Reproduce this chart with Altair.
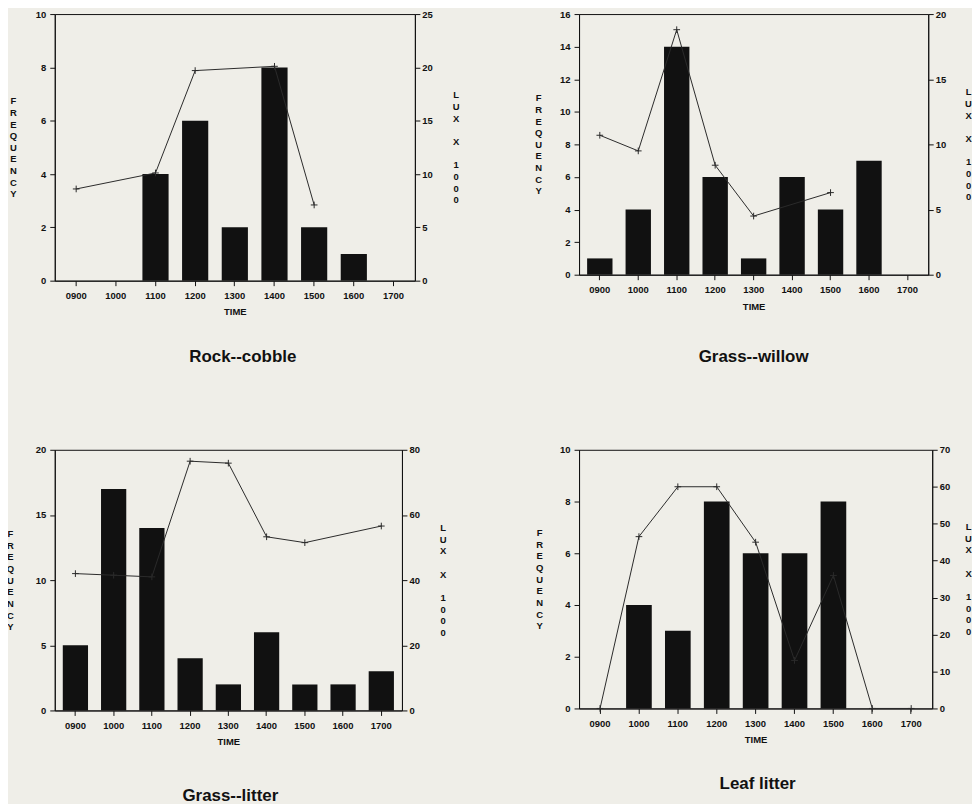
import altair as alt
import pandas as pd

times = ["0900", "1000", "1100", "1200", "1300", "1400", "1500", "1600", "1700"]

rock_freq = [0, 0, 4, 6, 2, 8, 2, 1, 0]
rock_lux = [8.6, None, 10.1, 19.7, None, 20.1, 7.1, None, None]

willow_freq = [1, 4, 14, 6, 1, 6, 4, 7, 0]
willow_lux = [10.7, 9.5, 18.8, 8.4, 4.5, None, 6.3, None, None]

litter_freq = [5, 17, 14, 4, 2, 6, 2, 2, 3]
litter_lux = [42.0, 41.5, 41.0, 76.5, 75.9, 53.3, 51.5, None, 56.6]

leaf_freq = [0, 4, 3, 8, 6, 6, 8, 0, 0]
leaf_lux = [0.0, 46.5, 60.0, 60.0, 45.0, 13.0, 36.0, 0.0, 0.0]

FONT = "Liberation Sans"
INK = "#111111"
BG = "#efeee8"
PLUS = "M-1,0L1,0M0,-1L0,1"
GAP = "\u2800"
LH = 11.7

left_title = list("FREQUENCY")
right_title = ["L", "U", "X", GAP, "X", GAP, "1", "0", "0", "0"]


def panel(freq, lux, fmax, fstep, lmax, lstep, w, h, title, tdx, toff,
          ltx, rtx):
    df = pd.DataFrame({"time": times, "freq": freq, "lux": lux})
    x = alt.X(
        "time:O", sort=times,
        scale=alt.Scale(domain=times, paddingInner=0.34, paddingOuter=0.21),
        axis=alt.Axis(title="TIME", labelAngle=0, labelPadding=5,
                      titlePadding=7, tickSize=5),
    )
    bars = alt.Chart(df).transform_filter("datum.freq > 0").mark_bar(
        color=INK
    ).encode(
        x=x,
        y=alt.Y(
            "freq:Q",
            scale=alt.Scale(domain=[0, fmax], nice=False),
            axis=alt.Axis(
                orient="left",
                values=list(range(0, fmax + 1, fstep)),
                title=left_title, titleAngle=0, titleLineHeight=LH,
                titleAlign="center", titleBaseline="middle",
                titleX=ltx, titleY=h / 2 - (len(left_title) - 1) * LH / 2,
                labelPadding=4, tickSize=5,
            ),
        ),
    )
    line = alt.Chart(df).transform_filter("isValid(datum.lux)").mark_line(
        color="#2a2a2a", strokeWidth=1,
        point=alt.OverlayMarkDef(shape=PLUS, filled=False, size=45,
                                 strokeWidth=1, color="#2a2a2a"),
    ).encode(
        x=x,
        y=alt.Y(
            "lux:Q",
            scale=alt.Scale(domain=[0, lmax], nice=False),
            axis=alt.Axis(
                orient="right",
                values=list(range(0, lmax + 1, lstep)),
                title=right_title, titleAngle=0, titleLineHeight=LH,
                titleAlign="center", titleBaseline="middle",
                titleX=rtx, titleY=h / 2 - (len(right_title) - 1) * LH / 2,
                labelPadding=2, tickSize=5,
            ),
        ),
    )
    return alt.layer(bars, line).resolve_scale(y="independent").properties(
        width=w, height=h,
        title=alt.TitleParams(title, orient="bottom", anchor="middle",
                              font=FONT, fontSize=17, fontWeight="bold",
                              color=INK, dx=tdx, offset=toff),
    )


p1 = panel(rock_freq, rock_lux, 10, 2, 25, 5, 362, 268, "Rock--cobble",
           8, 33, -42, 41)
p2 = panel(willow_freq, willow_lux, 16, 2, 20, 5, 351, 262, "Grass--willow",
           0, 39, -41, 40)
p3 = panel(litter_freq, litter_lux, 20, 5, 80, 20, 349, 262, "Grass--litter",
           2, 42, -45, 41)
p4 = panel(leaf_freq, leaf_lux, 10, 2, 70, 10, 355, 260, "Leaf litter",
           2, 32, -40, 36)

row1 = alt.hconcat(p1, p2, spacing=74)
row2 = alt.hconcat(p3, p4, spacing=88)

chart = alt.vconcat(row1, row2, spacing=78).properties(
    background=BG,
    padding={"left": -3, "top": -2, "right": 0, "bottom": 6},
).configure_view(
    stroke=INK, strokeWidth=1
).configure_axis(
    labelFont=FONT, labelFontSize=9.5, labelFontWeight="bold", labelColor=INK,
    titleFont=FONT, titleFontSize=9.5, titleFontWeight="bold", titleColor=INK,
    domainColor=INK, tickColor=INK, grid=False,
)

chart.save("out.html", embed_options={"renderer": "svg", "actions": False})
